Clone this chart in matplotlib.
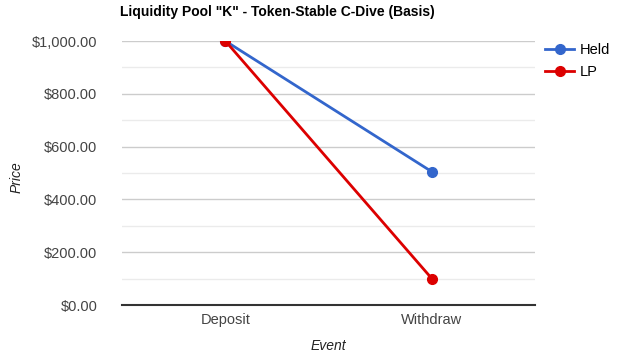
import matplotlib
matplotlib.use('Agg')
import matplotlib.pyplot as plt
from matplotlib.ticker import MultipleLocator, FuncFormatter
from matplotlib import rcParams

rcParams['font.family'] = 'sans-serif'
rcParams['font.sans-serif'] = ['Liberation Sans', 'DejaVu Sans']

events = ['Deposit', 'Withdraw']
held = [1000, 505]
lp = [1000, 100]

fig = plt.figure(figsize=(6.4, 3.54), dpi=100)
ax = fig.add_axes([0.191, 0.1384, 0.645, 0.7456])

x = [0, 1]
ax.plot(x, held, color='#3366cc', linewidth=2, marker='o', markersize=7, label='Held', zorder=3)
ax.plot(x, lp, color='#dc0000', linewidth=2, marker='o', markersize=7, label='LP', zorder=4)

ax.set_xlim(-0.5, 1.5)
ax.set_ylim(0, 1000)
ax.set_xticks(x)
ax.set_xticklabels(events)
ax.yaxis.set_major_locator(MultipleLocator(200))
ax.yaxis.set_minor_locator(MultipleLocator(100))
ax.yaxis.set_major_formatter(FuncFormatter(lambda v, p: '${:,.2f}'.format(v)))
ax.grid(axis='y', which='major', color='#cccccc', linewidth=1)
ax.grid(axis='y', which='minor', color='#ebebeb', linewidth=1)
ax.set_axisbelow(True)

for s in ['top', 'right', 'left']:
    ax.spines[s].set_visible(False)
ax.spines['bottom'].set_color('#333333')
ax.spines['bottom'].set_linewidth(1.5)
ax.tick_params(which='both', length=0, labelsize=10.5, colors='#444444')
ax.tick_params(axis='y', pad=18)
ax.tick_params(axis='x', pad=6)

# axis titles
fig.text(17 / 640, 0.5, 'Price', rotation=90, fontstyle='italic', fontsize=10,
         color='#222222', ha='center', va='center')
fig.text(0.513, 0.004, 'Event', fontstyle='italic', fontsize=10, color='#222222',
         ha='center', va='bottom')

fig.text(0.188, 0.965, 'Liquidity Pool "K" - Token-Stable C-Dive (Basis)',
         fontsize=10, fontweight='bold', color='#000000', ha='left', va='center')

ax.legend(loc='upper left', bbox_to_anchor=(1.0, 1.03), frameon=False, fontsize=10.5,
          handlelength=2.0, handletextpad=0.4, labelspacing=0.5, borderaxespad=0.3)

fig.savefig('out.png', dpi=100)
